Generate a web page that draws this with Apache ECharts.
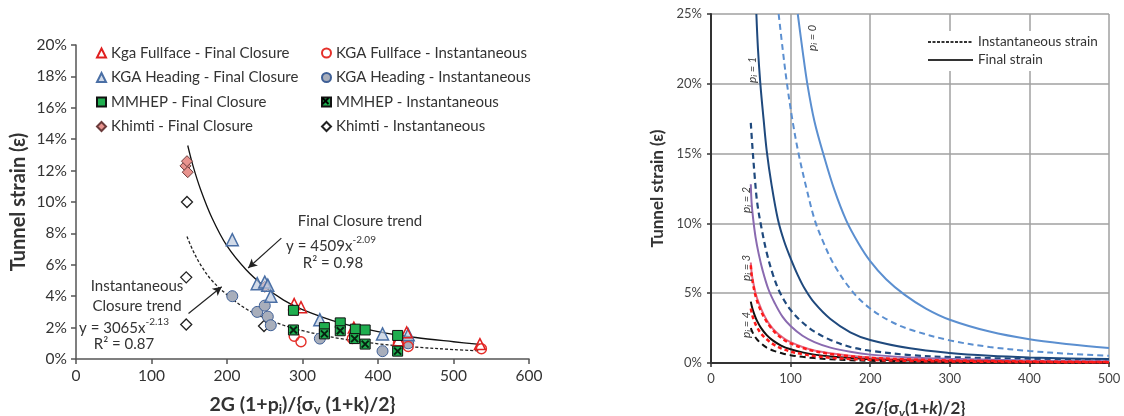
<!DOCTYPE html>
<html><head><meta charset="utf-8">
<script src="https://cdn.jsdelivr.net/npm/echarts@6/dist/echarts.min.js"></script>
<style>html,body{margin:0;padding:0;background:#fff}#c{width:1124px;height:416px}</style>
</head><body><div id="c"></div>
<script>
// ---------- Left chart data (x, strain %) ----------
const kgaFullFinal = [[289,3.5],[298,3.3],[368,2.0],[427,1.2],[438,1.7],[535,0.95]];
const kgaFullInst  = [[289,1.45],[298,1.1],[366,1.3],[427,1.0],[440,0.8],[537,0.65]];
const kgaHeadFinal = [[207,7.6],[240,4.8],[250,4.9],[254,4.7],[258,4.0],[323,2.5],[406,1.6],[440,1.55]];
const kgaHeadInst  = [[207,4.0],[240,3.0],[250,3.4],[254,2.7],[258,2.15],[323,1.3],[406,0.5],[440,1.0]];
const mmhepFinal   = [[288,3.1],[329,2.0],[350,2.3],[370,1.9],[383,1.85],[426,1.5]];
const mmhepInst    = [[288,1.85],[329,1.6],[350,1.8],[369,1.3],[383,0.95],[426,0.5]];
const khimtiFinal  = [[145,12.3],[147,12.6],[148,11.9],[250,4.6]];
const khimtiInst   = [[147,10.0],[146,5.2],[146,2.2],[249,2.1]];
const finalTrend = [[148,13.6],[155,12.3],[165,10.8],[180,9.0],[200,7.2],[225,5.7],[250,4.6],[275,3.75],[300,3.15],[350,2.3],[400,1.75],[450,1.37],[500,1.1],[535,0.93]];
const instTrend  = [[147,7.8],[155,6.9],[165,6.0],[180,5.0],[200,4.1],[225,3.2],[250,2.6],[275,2.15],[300,1.8],[350,1.3],[400,0.97],[450,0.76],[500,0.6],[535,0.52]];
const arrowFinal = [[272,7.7],[228,5.8]];
const arrowInst  = [[149,2.9],[193,4.6]];
const leftXTicks = [0,100,200,300,400,500,600];
const leftYTicks = [0,2,4,6,8,10,12,14,16,18,20];

// ---------- Right chart data (x, strain %) ----------
const p0Final = [[109,25],[115,22.4],[121,20],[130,17.3],[142,14.8],[155,12.4],[170,10.2],[185,8.6],[200,7.3],[220,6],[243,4.9],[270,3.9],[300,3.1],[350,2.25],[400,1.7],[450,1.35],[500,1.07]];
const p0Inst  = [[85,25],[90,22.5],[95,20.2],[102,17.5],[110,15],[120,12.5],[130,10.3],[140,8.8],[155,7],[178,5.1],[200,3.9],[225,3.0],[250,2.4],[300,1.62],[350,1.15],[400,0.86],[450,0.66],[500,0.52]];
const p1Final = [[57,25],[59,22.5],[62,20],[66,17.5],[70,15.2],[76,12.8],[84,10.3],[92,8.7],[100,7.5],[109,6.3],[118,5.3],[130,4.3],[150,3.15],[175,2.2],[200,1.65],[250,1.05],[300,0.72],[350,0.52],[400,0.4],[450,0.33],[500,0.28]];
const p1Inst  = [[50,17.2],[52,15.5],[55,13.3],[58,11.5],[63,9.8],[70,7.9],[78,6.3],[87,5.0],[100,3.8],[115,2.9],[130,2.25],[150,1.65],[175,1.15],[200,0.88],[250,0.57],[300,0.42],[400,0.3],[500,0.24]];
const p2Final = [[50,12.8],[51,11.5],[53,10.3],[56,9],[60,7.8],[65,6.6],[72,5.3],[80,4.3],[90,3.3],[100,2.65],[115,1.95],[130,1.5],[150,1.1],[175,0.8],[200,0.6],[250,0.4],[300,0.3],[400,0.18],[500,0.12]];
const p3Final = [[50,7.2],[51,6.5],[53,5.8],[56,5.0],[60,4.3],[66,3.5],[73,2.8],[82,2.2],[92,1.75],[100,1.5],[115,1.15],[130,0.9],[150,0.7],[175,0.52],[200,0.4],[250,0.27],[300,0.2],[400,0.12],[500,0.08]];
const p3Inst  = [[50,7.0],[51,6.3],[53,5.6],[56,4.8],[60,4.1],[66,3.35],[73,2.7],[82,2.1],[92,1.65],[100,1.4],[115,1.08],[130,0.85],[150,0.65],[175,0.48],[200,0.37],[250,0.25],[300,0.18],[400,0.11],[500,0.07]];
const p4Final = [[50,4.4],[52,3.9],[55,3.4],[58,3.0],[63,2.5],[70,2.0],[78,1.6],[88,1.25],[100,0.98],[115,0.76],[130,0.6],[150,0.46],[175,0.35],[200,0.27],[250,0.18],[300,0.13],[400,0.08],[500,0.05]];
const p4InstR = [[50,3.9],[52,3.4],[55,2.9],[58,2.55],[63,2.1],[70,1.7],[78,1.35],[88,1.05],[100,0.82],[115,0.63],[130,0.5],[150,0.38],[175,0.29],[200,0.22],[250,0.15],[300,0.11],[400,0.07],[500,0.05]];
const p4Inst  = [[50,2.5],[53,2.1],[57,1.75],[62,1.45],[70,1.1],[80,0.85],[90,0.68],[100,0.56],[115,0.44],[130,0.35],[150,0.27],[175,0.2],[200,0.16],[250,0.1],[300,0.07],[400,0.04],[500,0.03]];
const rightXTicks = [0,100,200,300,400,500];
const rightYTicks = [0,5,10,15,20,25];
const curveLabels = ['0','1','2','3','4'];

const FONT = 'Lato, "Open Sans", sans-serif';
const chart = echarts.init(document.getElementById('c'), null, {renderer:'canvas'});

function scatter(name, data, symbol, size, fill, border, bw, z) {
  return {name, type:'scatter', xAxisIndex:0, yAxisIndex:0, data, symbol, symbolSize:size, z: z||3,
    itemStyle:{color:fill, borderColor:border, borderWidth:bw, opacity:1}, emphasis:{disabled:true}};
}
function curve(name, data, color, type, width, z) {
  return {name, type:'line', xAxisIndex:1, yAxisIndex:1, data, showSymbol:false, symbol:'none',
    smooth:0.35, z: z||2,
    lineStyle:{color, width, type}, emphasis:{disabled:true}, silent:true};
}

const legendText = {fontFamily:FONT, fontSize:15, color:'#333', lineHeight:16};
const option = {
  animation:false,
  textStyle:{fontFamily:FONT},
  grid:[
    {left:76, top:45, width:453, height:314, outerBoundsMode:'none', containLabel:false},
    {left:711, top:14, width:398, height:349, outerBoundsMode:'none', containLabel:false}
  ],
  legend:[
    {orient:'vertical', left:96, top:45, padding:0, itemWidth:9, itemHeight:9, itemGap:8.5, textStyle:legendText,
     data:['Kga Fullface - Final Closure','KGA Heading - Final Closure','MMHEP - Final Closure','Khimti - Final Closure']},
    {orient:'vertical', left:321, top:45, padding:0, itemWidth:9, itemHeight:9, itemGap:8.5, textStyle:legendText,
     data:['KGA Fullface - Instantaneous','KGA Heading - Instantaneous','MMHEP - Instantaneous','Khimti - Instantaneous']},
    {orient:'vertical', left:923, top:31, padding:[4,6,4,4], backgroundColor:'#fff', itemWidth:45, itemHeight:10, itemGap:4,
     textStyle:{fontFamily:FONT, fontSize:13.5, color:'#333', lineHeight:14},
     data:['Instantaneous strain','Final strain']}
  ],
  xAxis:[
    {gridIndex:0, type:'value', min:leftXTicks[0], max:leftXTicks[leftXTicks.length-1], interval:100,
     axisLine:{show:true, onZero:false, lineStyle:{color:'#555', width:1.5}},
     axisTick:{show:true, length:5, lineStyle:{color:'#555', width:1.5}},
     axisLabel:{fontFamily:FONT, fontSize:15.5, color:'#333', margin:9},
     splitLine:{show:false},
     name:'2G (1+p{sub|i})/{σ{sub|v} (1+k)/2}', nameLocation:'middle', nameGap:35,
     nameTextStyle:{fontFamily:FONT, fontSize:19.5, fontWeight:'bold', color:'#333',
       rich:{sub:{fontFamily:FONT, fontSize:13, fontWeight:'bold', color:'#333', verticalAlign:'bottom', padding:[9,0,0,0]}}}},
    {gridIndex:1, type:'value', min:rightXTicks[0], max:rightXTicks[rightXTicks.length-1], interval:100,
     axisLine:{show:true, onZero:false, lineStyle:{color:'#333', width:2}},
     axisTick:{show:true, length:4, lineStyle:{color:'#333', width:1.5}},
     axisLabel:{fontFamily:FONT, fontSize:13, color:'#444', margin:9},
     splitLine:{show:true, lineStyle:{color:'#a0a0a0', width:1.5}},
     name:'2{it|G}/{σ{sub|v}(1+{it|k})/2}', nameLocation:'middle', nameGap:36,
     nameTextStyle:{fontFamily:FONT, fontSize:17, fontWeight:'bold', color:'#333',
       rich:{it:{fontFamily:FONT, fontSize:17, fontWeight:'bold', fontStyle:'italic', color:'#333'},
             sub:{fontFamily:FONT, fontSize:12, fontWeight:'bold', fontStyle:'italic', color:'#333', verticalAlign:'bottom', padding:[8,0,0,0]}}}}
  ],
  yAxis:[
    {gridIndex:0, type:'value', min:leftYTicks[0], max:leftYTicks[leftYTicks.length-1], interval:2,
     axisLine:{show:true, onZero:false, lineStyle:{color:'#555', width:1.5}},
     axisTick:{show:true, length:5, lineStyle:{color:'#555', width:1.5}},
     axisLabel:{fontFamily:FONT, fontSize:15.5, color:'#333', margin:9, formatter:'{value}%'},
     splitLine:{show:false},
     name:'Tunnel strain (ε)', nameLocation:'middle', nameGap:47,
     nameTextStyle:{fontFamily:FONT, fontSize:20, fontWeight:'bold', color:'#333'}},
    {gridIndex:1, type:'value', min:rightYTicks[0], max:rightYTicks[rightYTicks.length-1], interval:5,
     axisLine:{show:true, onZero:false, lineStyle:{color:'#333', width:2}},
     axisTick:{show:true, length:4, lineStyle:{color:'#333', width:1.5}},
     axisLabel:{fontFamily:FONT, fontSize:13, color:'#444', margin:9, formatter:'{value}%'},
     splitLine:{show:true, lineStyle:{color:'#a0a0a0', width:1.5}},
     name:'Tunnel strain (ε)', nameLocation:'middle', nameGap:45,
     nameTextStyle:{fontFamily:FONT, fontSize:17, fontWeight:'bold', color:'#333'}}
  ],
  series:[
    {name:'Final trend', type:'line', xAxisIndex:0, yAxisIndex:0, data:finalTrend, showSymbol:false, symbol:'none',
     smooth:0.35, silent:true, z:2, lineStyle:{color:'#111', width:1.3, type:'solid'},
     markLine:{silent:true, symbol:['none','arrow'], symbolSize:[7,9], label:{show:false},
       lineStyle:{color:'#222', width:1.2, type:'solid'},
       data:[[{coord:arrowFinal[0]},{coord:arrowFinal[1]}],[{coord:arrowInst[0]},{coord:arrowInst[1]}]]}},
    {name:'Instantaneous trend', type:'line', xAxisIndex:0, yAxisIndex:0, data:instTrend, showSymbol:false, symbol:'none',
     smooth:0.35, silent:true, z:2, lineStyle:{color:'#222', width:1.3, type:[3,2]}},
    scatter('Khimti - Instantaneous', khimtiInst, 'diamond', 11, '#ffffff', '#222', 1.3),
    scatter('Khimti - Final Closure', khimtiFinal, 'diamond', 11, '#e8938e', '#6b3b3b', 1),
    scatter('KGA Heading - Instantaneous', kgaHeadInst, 'circle', 11, '#a8aebb', '#3e5f96', 1),
    scatter('KGA Heading - Final Closure', kgaHeadFinal, 'triangle', 12, 'rgba(190,202,222,0.7)', '#4a6fa5', 1.5),
    scatter('KGA Fullface - Instantaneous', kgaFullInst, 'circle', 10, 'rgba(255,255,255,0)', '#e5302a', 1.4),
    scatter('Kga Fullface - Final Closure', kgaFullFinal, 'triangle', 11, 'rgba(255,255,255,0)', '#e02020', 1.5),
    scatter('MMHEP - Final Closure', mmhepFinal, 'rect', 10, '#1fae4f', '#111', 1),
    scatter('MMHEP - Instantaneous', mmhepInst, 'rect', 10, '#1fae4f', '#111', 1),
    {name:'mmhep-x', type:'scatter', xAxisIndex:0, yAxisIndex:0, data:mmhepInst, symbol:'path://M0,0L10,10M10,0L0,10',
     symbolSize:7, z:4, silent:true, itemStyle:{color:'none', borderColor:'#000', borderWidth:2}},
    curve('p0 final', p0Final, '#5b8fd0', 'solid', 2),
    curve('p0 inst', p0Inst, '#5b8fd0', [6,4], 2),
    curve('p1 final', p1Final, '#1f497d', 'solid', 2),
    curve('p1 inst', p1Inst, '#1f497d', [6,4], 2.2),
    curve('p2 final', p2Final, '#8a6ab0', 'solid', 2),
    curve('p3 final', p3Final, '#e06a85', 'solid', 2),
    curve('p3 inst', p3Inst, '#ff1a1a', [4,3], 2.5, 3),
    curve('p4 final', p4Final, '#111', 'solid', 2),
    curve('p4 inst red', p4InstR, '#ff1a1a', [4,3], 2.5, 3),
    curve('p4 inst', p4Inst, '#111', [6,4], 2),
    {name:'Instantaneous strain', type:'line', xAxisIndex:1, yAxisIndex:1, data:[], symbol:'none',
     lineStyle:{color:'#333', width:1.2, type:[3,1.5]}, itemStyle:{color:'rgba(0,0,0,0)', borderWidth:0}},
    {name:'Final strain', type:'line', xAxisIndex:1, yAxisIndex:1, data:[], symbol:'none',
     lineStyle:{color:'#333', width:1.5, type:'solid'}, itemStyle:{color:'rgba(0,0,0,0)', borderWidth:0}}
  ],
  graphic:[]
};

const annFont = {fontFamily:FONT, fontSize:15, fill:'#333'};
const supRich = {n:{fontFamily:FONT, fontSize:15, color:'#333', lineHeight:19, verticalAlign:'bottom'},
                 s:{fontFamily:FONT, fontSize:10, color:'#333', lineHeight:19, verticalAlign:'top', padding:[0,0,8,0]}};
function txt(x, y, text, rich) {
  return {type:'text', x, y, z:10, style:Object.assign({text, align:'center', verticalAlign:'middle'}, annFont, rich?{rich}:{})};
}
option.graphic.push(
  txt(360, 221, 'Final Closure trend'),
  txt(331, 244, '{n|y = 4509x}{s|-2.09}', supRich),
  txt(333, 263, 'R² = 0.98'),
  txt(137, 286, 'Instantaneous'),
  txt(137, 306, 'Closure trend'),
  txt(124, 326, '{n|y = 3065x}{s|-2.13}', supRich),
  txt(124, 344, 'R² = 0.87'),
  {type:'polyline', z:20, shape:{points:[[322.5,98],[328.5,104]]}, style:{stroke:'#000', lineWidth:2}},
  {type:'polyline', z:20, shape:{points:[[328.5,98],[322.5,104]]}, style:{stroke:'#000', lineWidth:2}}
);
const labPos = [[812,38],[752,70],[746,200],[746,268],[746,325]];
curveLabels.forEach((v,i)=>{
  option.graphic.push({type:'text', x:labPos[i][0], y:labPos[i][1], rotation:Math.PI/2, z:10,
    style:{text:'{it|p}{sb|i} = '+v, align:'center', verticalAlign:'middle',
      fontFamily:FONT, fontSize:11, fontStyle:'italic', fill:'#444',
      rich:{it:{fontFamily:FONT, fontSize:12, fontStyle:'italic', color:'#444'},
            sb:{fontFamily:FONT, fontSize:8, fontStyle:'italic', color:'#444', verticalAlign:'bottom', padding:[5,0,0,0]}}}});
});
chart.setOption(option);
</script></body></html>
